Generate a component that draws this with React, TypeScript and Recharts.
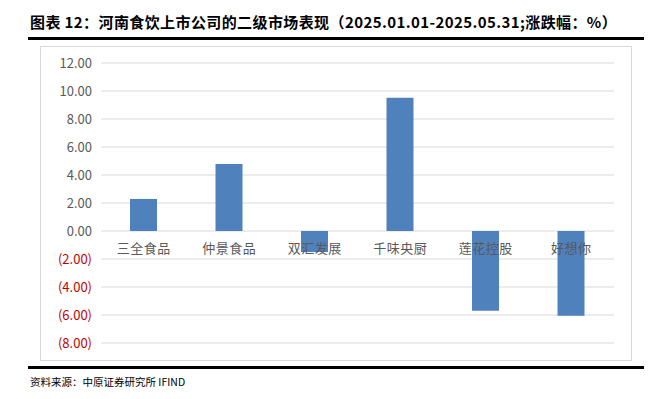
import React from 'react';
import { BarChart, Bar, XAxis, YAxis, CartesianGrid } from 'recharts';

const companies = ['三全食品', '仲景食品', '双汇发展', '千味央厨', '莲花控股', '好想你'];
const changePct = [2.29, 4.79, -1.5, 9.52, -5.69, -6.05];
const yTicks = [-8, -6, -4, -2, 0, 2, 4, 6, 8, 10, 12];

const data = companies.map((name, i) => ({ name, value: changePct[i] }));

const CJK = '"Noto Sans CJK SC", "Noto Sans", sans-serif';
// distance in px from the plot bottom (-8) up to the zero line: 8 units * 14px
const ZERO_OFFSET = 112;

const YTick = (props: any) => {
  const { x, y, payload } = props;
  const v = payload.value as number;
  const neg = v < 0;
  const label = neg ? `(${Math.abs(v).toFixed(2)})` : v.toFixed(2);
  return (
    <text x={x} y={y} dy="0.36em" textAnchor="end" fontSize={13} fontFamily={CJK} fill={neg ? '#c00000' : '#595959'}>
      {label}
    </text>
  );
};

const XTick = (props: any) => {
  const { x, y, payload } = props;
  return (
    <text x={x} y={y - ZERO_OFFSET} dy={14} textAnchor="middle" fontSize={13} fontFamily={CJK} fill="#595959" letterSpacing={0.5}>
      {payload.value}
    </text>
  );
};

export default function App() {
  return (
    <div style={{ position: 'absolute', left: 0, top: 0, width: 669, height: 399, background: '#fff', fontFamily: CJK }}>
      <div style={{ position: 'absolute', left: 30, top: 11, fontSize: 15, fontWeight: 700, color: '#000', whiteSpace: 'nowrap', letterSpacing: 0.4 }}>
        图表 12：河南食饮上市公司的二级市场表现（2025.01.01-2025.05.31;涨跌幅：%）
      </div>
      <div style={{ position: 'absolute', left: 28, top: 37, width: 616, height: 3, background: '#000' }} />
      <div style={{ position: 'absolute', left: 40, top: 46, width: 590, height: 313, border: '1px solid #d9d9d9' }} />
      <div style={{ position: 'absolute', left: 0, top: 0 }}>
        <BarChart width={669} height={399} data={data} margin={{ top: 63, right: 55, bottom: 26, left: 41 }}>
          <CartesianGrid vertical={false} stroke="#d9d9d9" />
          <XAxis dataKey="name" height={30} axisLine={false} tickLine={false} tick={<XTick />} interval={0} />
          <YAxis
            width={60}
            domain={[-8, 12]}
            ticks={yTicks}
            interval={0}
            axisLine={false}
            tickLine={false}
            tickSize={0}
            tickMargin={9}
            tick={<YTick />}
          />
          <Bar dataKey="value" fill="#4f81bd" barSize={27} isAnimationActive={false} />
        </BarChart>
      </div>
      <div style={{ position: 'absolute', left: 28, top: 366, width: 616, height: 3, background: '#000' }} />
      <div style={{ position: 'absolute', left: 30, top: 374, fontSize: 10.5, color: '#000', whiteSpace: 'nowrap' }}>
        资料来源：中原证券研究所 IFIND
      </div>
    </div>
  );
}
